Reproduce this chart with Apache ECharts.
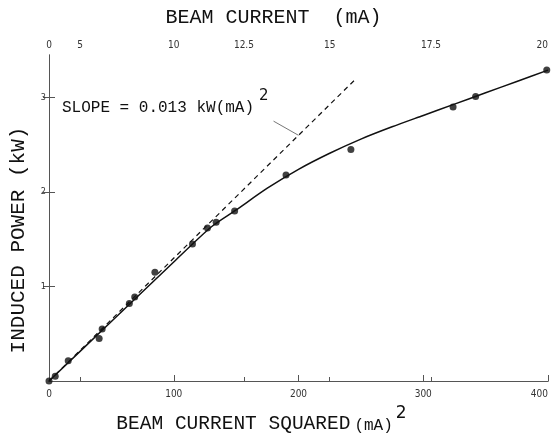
<!DOCTYPE html>
<html>
<head>
<meta charset="utf-8">
<script src="https://cdn.jsdelivr.net/npm/echarts@6/dist/echarts.min.js"></script>
<style>
  html, body { margin: 0; padding: 0; background: #fff; }
  #chart { width: 552px; height: 439px; }
</style>
</head>
<body>
<div id="chart"></div>
<script>
// measured points: beam current squared (mA^2) vs induced power (kW)
const measuredI2 = [0, 5, 15.4, 40.2, 42.6, 64.4, 68.7, 84.9, 115, 127, 134, 148.8, 190, 242, 323.9, 342, 399];
const measuredP = [0, 0.05, 0.215, 0.45, 0.55, 0.82, 0.89, 1.15, 1.45, 1.62, 1.68, 1.80, 2.18, 2.45, 2.90, 3.01, 3.29];

// hand drawn fit curve
const fitI2 = [0, 50, 100, 130, 150, 175, 200, 225, 250, 275, 300, 325, 350, 375, 400];
const fitP = [0, 0.63, 1.26, 1.63, 1.81, 2.04, 2.24, 2.41, 2.56, 2.69, 2.81, 2.93, 3.05, 3.17, 3.29];

// initial slope line, 0.013 kW/(mA)^2
const slopeI2 = [0, 245];
const slopeP = [0, 3.185];

// leader from the label to the slope line
const leaderI2 = [180, 200];
const leaderP = [2.75, 2.6];

// tick labels
const bottomTicks = [0, 100, 200, 300, 400];
const topCurrents = [0, 5, 10, 12.5, 15, 17.5, 20];
const powerTicks = [1, 2, 3];

const pairs = (xs, ys) => xs.map((x, i) => [x, ys[i]]);
const topTickPos = topCurrents.map(c => c * c);

const font = 'Liberation Mono';
const ink = '#111';
const axisGrey = '#555';

const chart = echarts.init(document.getElementById('chart'));

chart.setOption({
  backgroundColor: '#fff',
  animation: false,
  grid: { left: 47, right: 4, top: 55, bottom: 42 },
  xAxis: [
    {
      type: 'value', position: 'bottom', min: 0, max: 400, interval: 100,
      axisLine: { lineStyle: { color: axisGrey, width: 1 } },
      axisTick: { inside: true, length: 6, customValues: bottomTicks, lineStyle: { color: axisGrey } },
      axisLabel: { customValues: bottomTicks, color: '#333', fontSize: 10, fontFamily: 'DejaVu Sans Condensed', margin: 8, alignMaxLabel: 'right' },
      splitLine: { show: false },
      name: '{t|BEAM CURRENT SQUARED}{u|(mA)}{s|2}',
      nameLocation: 'middle', nameGap: 24,
      nameTextStyle: {
        padding: [0, 74, 0, 0],
        rich: {
          t: { fontFamily: font, fontSize: 19.5, color: ink, verticalAlign: 'bottom', padding: [8, 0, 0, 0] },
          u: { fontFamily: font, fontSize: 16, color: ink, verticalAlign: 'bottom', padding: [8, 0, 0, 4] },
          s: { fontFamily: 'DejaVu Sans', fontSize: 17, color: ink, verticalAlign: 'top', padding: [0, 0, 12, 3] }
        }
      }
    },
    {
      type: 'value', position: 'top', min: 0, max: 400,
      axisLine: { lineStyle: { color: axisGrey, width: 1 } },
      axisTick: { inside: false, length: 4, customValues: topTickPos, lineStyle: { color: axisGrey } },
      axisLabel: {
        customValues: topTickPos, color: '#333', fontSize: 10, fontFamily: 'DejaVu Sans Condensed', margin: 5,
        alignMaxLabel: 'right',
        formatter: v => String(Math.round(Math.sqrt(v) * 10) / 10)
      },
      splitLine: { show: false },
      name: 'BEAM CURRENT  (mA)', nameLocation: 'middle', nameGap: 27,
      nameTextStyle: { fontFamily: font, fontSize: 20, color: ink, padding: [0, 50, 0, 0] }
    }
  ],
  yAxis: [
    {
      type: 'value', position: 'left', min: 0, max: 3.45,
      axisLine: { show: true, lineStyle: { color: axisGrey, width: 1 } },
      axisTick: { inside: true, length: 6, customValues: powerTicks, lineStyle: { color: axisGrey } },
      axisLabel: { customValues: powerTicks, color: '#333', fontSize: 9, fontFamily: 'DejaVu Sans Condensed', margin: 3 },
      splitLine: { show: false },
      name: 'INDUCED POWER (kW)', nameLocation: 'middle', nameGap: 20,
      nameTextStyle: { fontFamily: font, fontSize: 21, color: ink, padding: [0, 44, 0, 0] }
    },
    {
      type: 'value', position: 'right', min: 0, max: 3.45,
      axisLine: { show: true, lineStyle: { color: axisGrey, width: 1 } },
      axisTick: { inside: true, length: 6, customValues: powerTicks, lineStyle: { color: axisGrey } },
      axisLabel: { show: false },
      splitLine: { show: false }
    }
  ],
  graphic: [
    {
      type: 'text', left: 62, top: 89,
      style: {
        text: '{t|SLOPE = 0.013 kW(mA)}{s|2}',
        rich: {
          t: { fontFamily: font, fontSize: 16, fill: ink, verticalAlign: 'bottom', padding: [10, 0, 0, 0] },
          s: { fontFamily: 'DejaVu Sans', fontSize: 15, fill: ink, verticalAlign: 'top', padding: [0, 0, 12, 5] }
        }
      }
    }
  ],
  series: [
    {
      type: 'line', data: pairs(slopeI2, slopeP), symbol: 'none',
      lineStyle: { color: ink, width: 1.2, type: [5, 4] }
    },
    {
      type: 'line', data: pairs(leaderI2, leaderP), symbol: 'none',
      lineStyle: { color: '#777', width: 1 }
    },
    {
      type: 'line', data: pairs(fitI2, fitP), symbol: 'none', smooth: 0.25,
      lineStyle: { color: ink, width: 1.5 }
    },
    {
      type: 'scatter', data: pairs(measuredI2, measuredP), symbolSize: 7,
      itemStyle: { color: ink }
    }
  ]
});
</script>
</body>
</html>
